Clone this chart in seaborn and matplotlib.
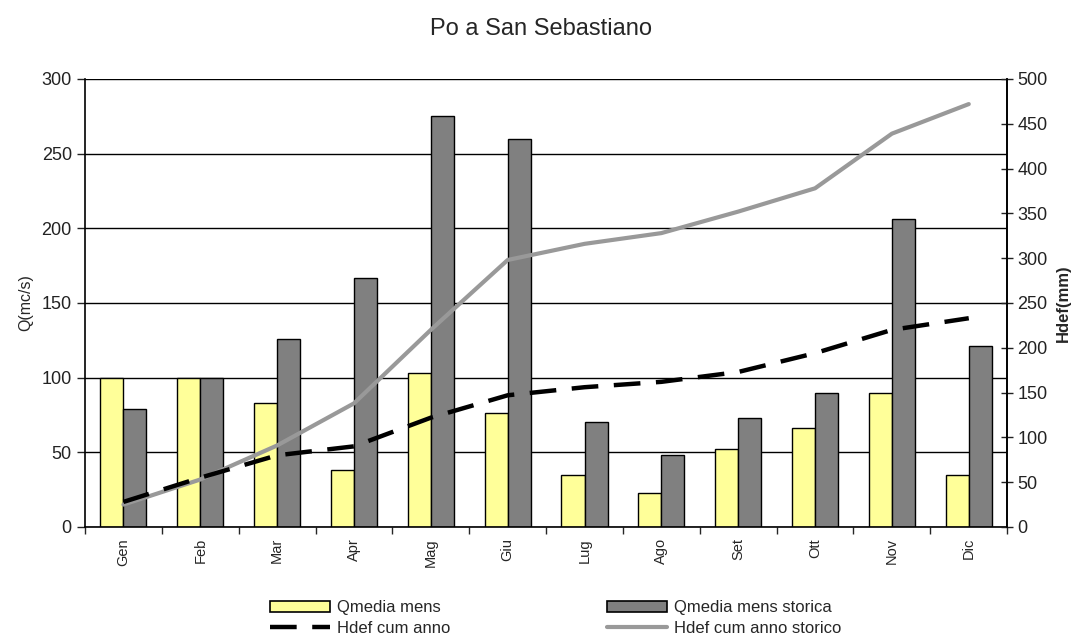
import matplotlib
matplotlib.use("Agg")
import matplotlib.pyplot as plt
from matplotlib.patches import Patch
from matplotlib.lines import Line2D
import seaborn as sns
import pandas as pd
import numpy as np

months = ["Gen", "Feb", "Mar", "Apr", "Mag", "Giu", "Lug", "Ago", "Set", "Ott", "Nov", "Dic"]
q_mens = [100, 100, 83, 38, 103, 76, 35, 23, 52, 66, 90, 35]
q_mens_storica = [79, 100, 126, 167, 275, 260, 70, 48, 73, 90, 206, 121]
hdef_cum = [28, 55, 80, 90, 122, 147, 156, 162, 173, 194, 220, 233]
hdef_cum_storico = [25, 53, 91, 138, 220, 298, 316, 328, 352, 378, 439, 472]

lab_q = "Qmedia mens"
lab_qs = "Qmedia mens storica"
lab_h = "Hdef cum anno"
lab_hs = "Hdef cum anno storico"

yellow = "#FFFF99"
grey = "#808080"
line_grey = "#999999"

sns.set_style("white")
plt.rcParams["font.family"] = ["Liberation Sans", "DejaVu Sans"]

bars = pd.DataFrame({
    "mese": months * 2,
    "Q": q_mens + q_mens_storica,
    "serie": [lab_q] * len(months) + [lab_qs] * len(months),
})

fig = plt.figure(figsize=(10.83, 6.37), dpi=100)
ax = fig.add_axes([0.0785, 0.1727, 0.8515, 0.7033])

ax.set_axisbelow(True)
ax.yaxis.grid(True, color="black", linewidth=1.0)
sns.barplot(data=bars, x="mese", y="Q", hue="serie", order=months,
            palette=[yellow, grey], width=0.6, edgecolor="black",
            linewidth=1.0, ax=ax, legend=False, saturation=1)

ax.set_xlim(-0.5, len(months) - 0.5)
ax.set_ylim(0, 300)
ax.set_yticks(np.arange(0, 301, 50))
ax.set_xlabel("")
ax.set_ylabel("Q(mc/s)", fontsize=11.5, labelpad=6)
ax.tick_params(axis="y", direction="out", length=6, width=1, labelsize=13, colors="#222222", left=True)
ax.set_xticks(np.arange(len(months)))
ax.set_xticklabels(months, rotation=90, fontsize=10.5)
ax.set_xticks(np.arange(len(months) + 1) - 0.5, minor=True)
ax.tick_params(axis="x", which="major", length=0, pad=8)
ax.tick_params(axis="x", which="minor", direction="out", length=5, width=1, bottom=True)
for s in ["left", "bottom", "right"]:
    ax.spines[s].set_color("black")
    ax.spines[s].set_linewidth(1.2)
ax.spines["top"].set_visible(False)

ax2 = ax.twinx()
lines = pd.DataFrame({"mese": months, "h": hdef_cum, "hs": hdef_cum_storico})
sns.lineplot(data=lines, x="mese", y="hs", color=line_grey, linewidth=3, ax=ax2, sort=False)
sns.lineplot(data=lines, x="mese", y="h", color="black", linewidth=3.2, ax=ax2, sort=False,
             dashes=False)
ax2.lines[-1].set_dashes((6, 3.5))
ax2.set_ylim(0, 500)
ax2.set_yticks(np.arange(0, 501, 50))
ax2.set_ylabel("Hdef(mm)", fontsize=12, fontweight="bold", labelpad=6)
ax2.tick_params(axis="y", direction="inout", length=8, width=1, labelsize=13, colors="#222222", right=True)
ax2.set_xlabel("")
for s in ["top", "left", "bottom"]:
    ax2.spines[s].set_visible(False)
ax2.spines["right"].set_color("black")
ax2.spines["right"].set_linewidth(1.2)

fig.suptitle("Po a San Sebastiano", y=0.972, fontsize=17)

handles = [
    Patch(facecolor=yellow, edgecolor="black", linewidth=1.2, label=lab_q),
    Line2D([0], [0], color="black", linewidth=3.2, dashes=(6, 3.5), label=lab_h),
    Patch(facecolor=grey, edgecolor="black", linewidth=1.2, label=lab_qs),
    Line2D([0], [0], color=line_grey, linewidth=3, label=lab_hs),
]
fig.legend(handles=handles, loc="lower center", bbox_to_anchor=(0.513, -0.022), ncol=2,
           frameon=False, fontsize=12, handlelength=3.6, handleheight=0.7,
           handletextpad=0.4, columnspacing=9.4, labelspacing=0.35)

fig.savefig("out.png", dpi=100)
